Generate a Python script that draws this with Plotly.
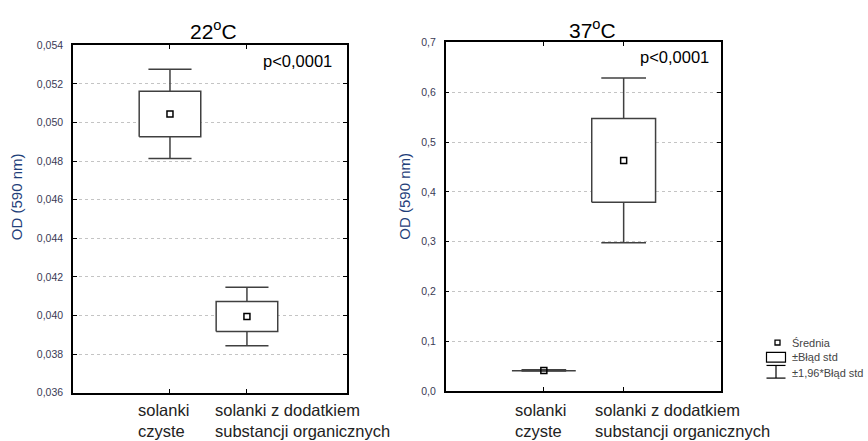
import plotly.graph_objects as go

W, H = 868, 441

categories = ["solanki<br>czyste", "solanki z dodatkiem<br>substancji organicznych"]

# 22°C panel (mean, standard error, 1.96*SE)
mean_22 = [0.05045, 0.03995]
se_22 = [0.00118, 0.00078]
ci_22 = [0.00231, 0.00152]

# 37°C panel
mean_37 = [0.0417, 0.4633]
se_37 = [0.0006, 0.0841]
ci_37 = [0.0012, 0.1655]

titles = ["22<sup>o</sup>C", "37<sup>o</sup>C"]
p_text = "p<0,0001"
y_title = "OD (590 nm)"
legend_labels = ["Średnia", "±Błąd std", "±1,96*Błąd std"]

FONT = "Liberation Sans, Arial, sans-serif"
BOX_HALF = 0.40
CAP_HALF = 0.28
LINE_COL = "#404040"

fig = go.Figure()


def add_panel(means, ses, cis, xa, ya):
    wx, wy = [], []
    for i, (m, c) in enumerate(zip(means, cis)):
        wx += [i, i, None, i - CAP_HALF, i + CAP_HALF, None, i - CAP_HALF, i + CAP_HALF, None]
        wy += [m - c, m + c, None, m + c, m + c, None, m - c, m - c, None]
    fig.add_trace(go.Scatter(x=wx, y=wy, mode="lines", xaxis=xa, yaxis=ya,
                             line=dict(color=LINE_COL, width=1.5), showlegend=False,
                             hoverinfo="skip"))
    for i, (m, s) in enumerate(zip(means, ses)):
        fig.add_trace(go.Scatter(
            x=[i - BOX_HALF, i + BOX_HALF, i + BOX_HALF, i - BOX_HALF, i - BOX_HALF],
            y=[m - s, m - s, m + s, m + s, m - s], mode="lines", fill="toself",
            fillcolor="white", line=dict(color=LINE_COL, width=1.5), xaxis=xa, yaxis=ya,
            showlegend=False, hoverinfo="skip"))
    fig.add_trace(go.Scatter(x=list(range(len(means))), y=means, mode="markers",
                             xaxis=xa, yaxis=ya, showlegend=False,
                             marker=dict(symbol="square-open", size=6, color="black",
                                         line=dict(width=1.5))))


add_panel(mean_22, se_22, ci_22, "x", "y")
add_panel(mean_37, se_37, ci_37, "x2", "y2")

axis_common = dict(showline=True, linecolor="black", linewidth=1.5, mirror="ticks",
                   ticks="inside", ticklen=4, tickcolor="black", tickwidth=1,
                   zeroline=False)

fig.update_layout(
    width=W, height=H, autosize=False,
    margin=dict(l=0, r=0, t=0, b=0),
    paper_bgcolor="white", plot_bgcolor="white",
    separators=", ",
    font=dict(family=FONT, color="#222"),
    xaxis=dict(domain=[73 / W, 347 / W], range=[-1.26, 2.30], tickvals=[0, 1],
               showticklabels=False, showgrid=False, anchor="y", **axis_common),
    yaxis=dict(domain=[1 - 397.5 / H, 1 - 40.5 / H], range=[0.036, 0.054],
               tickvals=[0.036 + 0.002 * k for k in range(10)], tickformat=".3f",
               showgrid=True, gridcolor="#c4c4c4", griddash="dot", gridwidth=1,
               tickfont=dict(size=10.5, color="#3a3a55"), ticklabelstandoff=6,
               anchor="x", **axis_common),
    xaxis2=dict(domain=[445.7 / W, 721 / W], range=[-1.23, 2.22], tickvals=[0, 1],
                showticklabels=False, showgrid=False, anchor="y2", **axis_common),
    yaxis2=dict(domain=[1 - 396 / H, 1 - 37.5 / H], range=[0, 0.7],
                tickvals=[0.1 * k for k in range(8)], tickformat=".1f",
                showgrid=True, gridcolor="#c4c4c4", griddash="dot", gridwidth=1,
                tickfont=dict(size=10.5, color="#3a3a55"), ticklabelstandoff=6,
                anchor="x2", **axis_common),
)

ann = []
# panel titles
ann.append(dict(text=titles[0], x=213 / W, y=1 - 25 / H, xref="paper", yref="paper",
                showarrow=False, font=dict(size=21, color="black"), xanchor="center", yanchor="middle"))
ann.append(dict(text=titles[1], x=592 / W, y=1 - 24 / H, xref="paper", yref="paper",
                showarrow=False, font=dict(size=21, color="black"), xanchor="center", yanchor="middle"))
# p values
ann.append(dict(text=p_text, x=334 / W, y=1 - 57 / H, xref="paper", yref="paper",
                showarrow=False, font=dict(size=16.5, color="black"), xanchor="right", yanchor="middle"))
ann.append(dict(text=p_text, x=711 / W, y=1 - 52 / H, xref="paper", yref="paper",
                showarrow=False, font=dict(size=16.5, color="black"), xanchor="right", yanchor="middle"))
# y axis titles
for xc in (16.5 / W, 405 / W):
    ann.append(dict(text=y_title, x=xc, y=1 - 196 / H, xref="paper", yref="paper",
                    showarrow=False, textangle=-90, font=dict(size=15, color="#1f3f7a"),
                    xanchor="center", yanchor="middle"))
# category labels (left aligned)
for i, c in enumerate(categories):
    ann.append(dict(text=c, x=i - 0.44, xref="x", y=1 - 404 / H, yref="paper",
                    showarrow=False, align="left", xanchor="left", yanchor="top",
                    font=dict(size=16.5, color="#222")))
    ann.append(dict(text=c, x=i - 0.39, xref="x2", y=1 - 404 / H, yref="paper",
                    showarrow=False, align="left", xanchor="left", yanchor="top",
                    font=dict(size=16.5, color="#222")))
# legend text
for lab, yc in zip(legend_labels, (346, 361, 377)):
    ann.append(dict(text=lab, x=790 / W, y=1 - yc / H, xref="paper", yref="paper",
                    showarrow=False, xanchor="left", yanchor="middle",
                    font=dict(size=11, color="#444")))
fig.update_layout(annotations=ann)

# legend glyphs
def px(x):
    return x / W


def py(y):
    return 1 - y / H


shapes = [
    dict(type="rect", xref="paper", yref="paper", x0=px(775), x1=px(780), y0=py(348.5), y1=py(343.5),
         line=dict(color="black", width=1.3)),
    dict(type="rect", xref="paper", yref="paper", x0=px(766.5), x1=px(785.5), y0=py(366), y1=py(356),
         line=dict(color="black", width=1.2)),
    dict(type="line", xref="paper", yref="paper", x0=px(766.5), x1=px(785.5), y0=py(369.5), y1=py(369.5),
         line=dict(color="black", width=1.2)),
    dict(type="line", xref="paper", yref="paper", x0=px(776), x1=px(776), y0=py(369.5), y1=py(382.5),
         line=dict(color="black", width=1.2)),
    dict(type="line", xref="paper", yref="paper", x0=px(766.5), x1=px(785.5), y0=py(382.5), y1=py(382.5),
         line=dict(color="black", width=1.2)),
]
fig.update_layout(shapes=shapes)

fig.write_html("out.html")
